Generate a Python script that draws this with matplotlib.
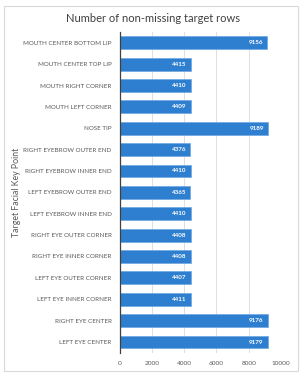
import matplotlib.pyplot as plt
from matplotlib.patches import Rectangle

plt.rcParams['font.family'] = ['Lato', 'DejaVu Sans']

keypoints = [
    'MOUTH CENTER BOTTOM LIP', 'MOUTH CENTER TOP LIP', 'MOUTH RIGHT CORNER',
    'MOUTH LEFT CORNER', 'NOSE TIP', 'RIGHT EYEBROW OUTER END',
    'RIGHT EYEBROW INNER END', 'LEFT EYEBROW OUTER END', 'LEFT EYEBROW INNER END',
    'RIGHT EYE OUTER CORNER', 'RIGHT EYE INNER CORNER', 'LEFT EYE OUTER CORNER',
    'LEFT EYE INNER CORNER', 'RIGHT EYE CENTER', 'LEFT EYE CENTER',
]
counts = [9156, 4415, 4410, 4409, 9189, 4376, 4410, 4365, 4410,
          4408, 4408, 4407, 4411, 9176, 9179]
xticks = [0, 2000, 4000, 6000, 8000, 10000]

bar_color = '#2F7FD0'
text_color = '#595959'

fig = plt.figure(figsize=(3.05, 3.75), dpi=100)
fig.patches.append(Rectangle((0.013, 0.011), 0.965, 0.973, transform=fig.transFigure,
                             fill=False, edgecolor='#D9D9D9', linewidth=0.8))
ax = fig.add_axes([0.393, 0.0595, 0.528, 0.855])

pos = list(range(len(keypoints)))
ax.barh(pos, counts, height=0.6, color=bar_color, edgecolor='#6FA8E0',
        linewidth=0.5, zorder=3)
for p, c in zip(pos, counts):
    ax.text(c - 250, p, str(c), ha='right', va='center', color='white',
            fontsize=4.5, fontweight='bold', zorder=4)

ax.set_ylim(len(keypoints) - 0.5, -0.5)
ax.set_xlim(0, 10000)
ax.set_yticks(pos)
ax.set_yticklabels(keypoints, fontsize=4.5, color=text_color)
ax.set_xticks(xticks)
ax.set_xticklabels([str(t) for t in xticks], fontsize=4.6, color=text_color)
ax.tick_params(length=0, pad=6)
ax.grid(axis='x', color='#D9D9D9', linewidth=0.6, zorder=0)
for s in ['top', 'right', 'bottom']:
    ax.spines[s].set_visible(False)
ax.spines['left'].set_color('#404040')
ax.spines['left'].set_linewidth(0.9)
ax.spines['left'].set_zorder(5)

ax.set_ylabel('Target Facial Key Point', fontsize=6.3, color=text_color)
ax.yaxis.set_label_coords(-0.615, 0.5)
fig.text(0.5, 0.952, 'Number of non-missing target rows', ha='center', va='center',
         fontsize=8, color='#404040')

fig.savefig('out.png', dpi=100)
